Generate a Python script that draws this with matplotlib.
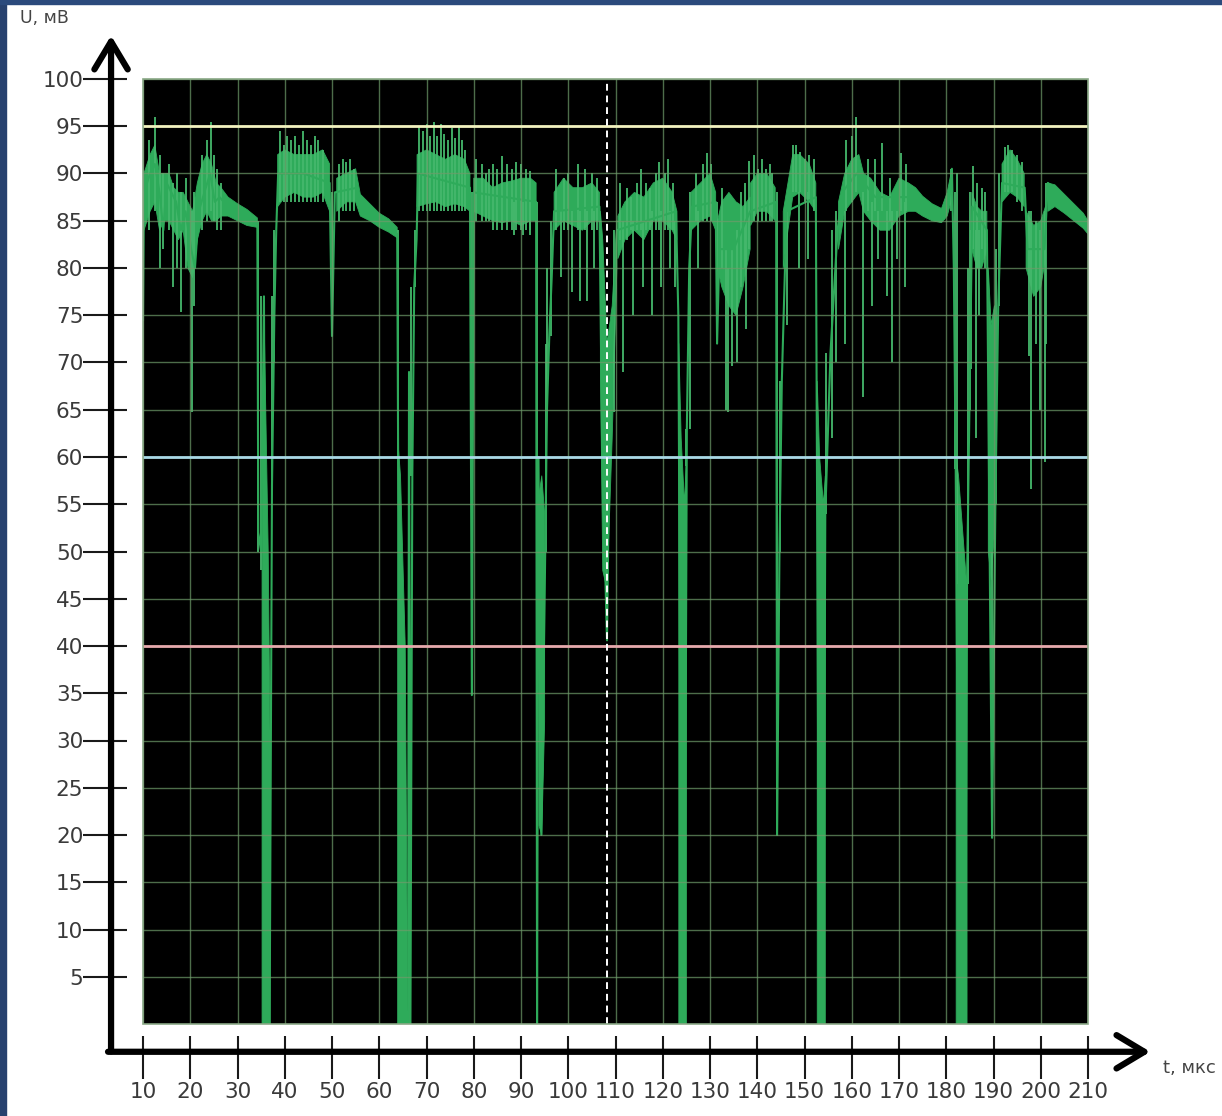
import numpy as np
import matplotlib.pyplot as plt
from matplotlib.patches import Rectangle
from matplotlib.ticker import FixedLocator

# axis ticks and reference levels
x_ticks = list(range(10, 211, 10))
y_ticks = list(range(5, 101, 5))
levels = [95, 60, 40]
level_colors = ['#f2f2bf', '#a9d9e6', '#e6a9ac']
marker_t = 108.2

# main trace (t, U)
trace = [
    (10.0, 74.5), (10.2, 88), (11.5, 90), (12.5, 91), (13.5, 88), (14.3, 84), (15, 89), (16, 88),
    (17, 87), (18, 84), (19, 86), (20.2, 82), (21, 80), (21.8, 86), (23, 88), (24.2, 90), (25.2, 87),
    (26.2, 87.5), (28, 86.5), (30, 85.8), (32, 85.2), (34.2, 84.8),
    (34.4, 52), (35.0, 50), (35.6, 77), (36.2, 0), (36.8, 0), (37.3, 57), (37.8, 75), (38.2, 84), (38.6, 90),
    (44, 90), (49.5, 89), (50.0, 72.8), (50.6, 88), (55.4, 88.5), (56, 86.5), (60, 84.8), (63.8, 83.6),
    (64.0, 60), (65.7, 0), (66.1, 0), (66.3, 69), (66.6, 0), (67.0, 58), (67.4, 78), (67.9, 83), (68.2, 90),
    (79.2, 88.5), (79.6, 34.8), (80.0, 88), (93.2, 87), (93.4, 0), (93.7, 60), (94.3, 20), (95, 45),
    (95.5, 65), (96, 73), (96.5, 79), (97, 86), (106.6, 86.5),
    (107.2, 60), (108.2, 40.6), (108.8, 65), (109.6, 75), (110.3, 84), (122.8, 86), (123.3, 75),
    (124.0, 0), (124.6, 0), (125.1, 63), (125.6, 80), (126.2, 86.5), (131.2, 87), (131.5, 72), (132, 82),
    (135, 82), (138.5, 86), (144.0, 87), (144.2, 20), (144.7, 50), (145.2, 68), (146.2, 86), (152.4, 87.5),
    (153.0, 15), (153.4, 0), (154.0, 0), (154.4, 54), (155.5, 71), (157, 84), (158, 88), (161, 90),
    (165, 87.5), (170, 87.5), (172.5, 87.5), (175, 86.5), (177, 85.8), (179.5, 85.2), (180.6, 87),
    (181.2, 90.5), (181.6, 80), (182.0, 58.7), (182.8, 0), (184.0, 0), (184.4, 46.6), (184.9, 65),
    (185.5, 86.5), (188.6, 84), (189.2, 49), (189.7, 19.7), (190.4, 55), (191.0, 76), (191.8, 89),
    (196.6, 88.5), (197.2, 82), (200.8, 82), (201.5, 89), (202.5, 88.6), (205, 86.5), (207, 85.8), (210, 84.2),
]

# dense noisy stretches: (t, lower edge, upper edge), gaps between stretches
GAP = (np.nan, np.nan, np.nan)
bands = [
    (10.2, 84, 90), (11.5, 86, 92), (12.5, 87, 93), (13.5, 84, 90), (14.5, 85, 90), (15.5, 85, 90),
    (16.5, 84, 88.5), (17.5, 83, 88), (18.5, 84, 88), (19.5, 80, 87), (20.5, 79, 86), (21.5, 83, 89),
    (22.5, 85, 91), (23.5, 86, 92), (24.5, 85, 91), (25.5, 85, 89), (26.5, 85.5, 88.5), (28, 85.5, 87.5),
    (30, 85, 86.8), (32, 84.5, 86.2), (34.2, 84.3, 85.3), GAP,
    (35.2, 0, 55), (35.6, 0, 76), (36.5, 0, 50), (36.9, 0, 30), GAP,
    (38.5, 86.5, 92), (40, 87.5, 92.5), (42, 88, 92), (44, 87.5, 92), (46, 87.5, 92), (48, 88, 92.5),
    (49.5, 86, 91), GAP,
    (51, 86, 89.5), (53, 87, 90), (55, 87, 90.5), (56, 85.5, 87.8), (58, 85, 86.8), (60, 84.3, 85.8),
    (62, 83.8, 85.2), (63.8, 83.2, 84.3), GAP,
    (63.9, 0, 62), (64.5, 0, 58), (65.5, 0, 40), (65.9, 0, 10), GAP,
    (68, 86.5, 92), (70, 86.8, 92.5), (72, 87, 92), (74, 86.5, 91.5), (76, 86.8, 92), (78, 86.5, 91.5),
    (79.2, 86, 90), GAP,
    (80, 86, 89.5), (82, 85.5, 89.5), (84, 85, 88.5), (86, 84.8, 89), (88, 85, 89.2), (90, 84.5, 89.5),
    (92, 85, 89.5), (93.2, 85, 89), GAP,
    (93.8, 21, 56), (94.4, 20, 58), (95.0, 32, 54), GAP,
    (97, 84, 88), (99, 85, 89.5), (101, 84.5, 88.5), (103, 84, 88.5), (105, 85, 89), (106.6, 85, 88), GAP,
    (106.8, 70, 86), (107.3, 48, 83), (108.2, 46, 72), (109.3, 62, 76), (110.3, 80, 85), GAP,
    (110.5, 81, 85.5), (112, 83, 87), (114, 84, 88), (116, 83, 87.5), (118, 85, 89), (120, 85, 89.5),
    (122, 84, 88), (123, 83, 86), GAP,
    (123.4, 0, 72), (123.9, 0, 62), (124.6, 0, 55), (125.0, 0, 60), GAP,
    (126, 84, 88), (128, 85, 89), (130, 85.5, 90), (131.2, 84, 88), GAP,
    (131.6, 80, 85), (132.5, 78, 87), (134, 76, 88), (135.5, 75, 87), (137, 78, 86.5), (138.5, 82, 87.5), GAP,
    (138.6, 84.5, 89), (140, 86, 90), (142, 86, 90), (143.8, 85, 88.5), GAP,
    (145.5, 80, 86), (146.5, 84, 89), (147.5, 87.5, 92), (149, 88, 92), (151, 87, 91), (152.4, 86, 89), GAP,
    (152.7, 0, 68), (153.2, 0, 60), (154.0, 0, 55), (154.4, 0, 58), GAP,
    (157.2, 82, 87), (158.5, 86, 90), (160, 87, 91.5), (161.5, 88, 92), (162.5, 86, 90), (164, 85, 89.5),
    (166, 84, 88), (168, 84, 87.5), (170, 85.5, 89.5), (172, 86, 89), (173.5, 86, 88.5), (175, 85.5, 87.6),
    (177, 85, 86.8), (179, 84.8, 86.3), (180.2, 85.5, 88), (181, 87, 90), GAP,
    (182.1, 0, 60), (182.6, 0, 58), (183.8, 0, 50), (184.4, 0, 46), GAP,
    (185.4, 82, 88), (186.5, 80, 86.5), (187.5, 80, 86), (188.6, 82, 86), GAP,
    (188.9, 50, 80), (189.5, 47, 74), (190.2, 52, 76), GAP,
    (191.8, 87, 91), (193.5, 88, 92.5), (195, 87.5, 91.5), (196.5, 86.5, 90), GAP,
    (196.9, 80, 86), (198.5, 77, 84.5), (200, 78, 85), (201, 81, 86.5), GAP,
    (201.5, 86, 89), (203, 86.5, 88.8), (205, 85.8, 87.8), (207, 85, 86.8), (209, 84.2, 85.8), (210, 83.6, 85),
]

# single spikes: (t, low end, high end)
spikes = [
    (10.1, 74.5, 88), (11.2, 84, 93.5), (12.5, 86, 96), (13.5, 80, 92), (14.3, 82, 90), (15.5, 84, 91),
    (16.3, 78, 89), (17.3, 80, 90), (18.0, 75.3, 88), (19.0, 80, 89.5), (20.4, 64.8, 86), (20.8, 76, 88),
    (22.5, 84, 92), (23.5, 85, 93.5), (24.4, 86, 95.5), (25.0, 85, 92), (25.6, 84, 90.5), (26.6, 84, 89),
    (34.4, 50, 85), (35.0, 48, 77), (37.2, 57, 77), (37.8, 70, 84),
    (39.0, 87, 94.5), (39.8, 87, 93), (40.5, 87, 94), (41.3, 87, 93.5), (42.1, 87, 94), (43.0, 87, 93),
    (43.8, 87, 94.5), (44.7, 87, 93.5), (45.5, 87, 93), (46.3, 87, 94), (47.1, 87, 93.5), (48.0, 87, 92.5),
    (50.0, 72.8, 88), (51.5, 85, 91), (52.3, 86, 91.5), (53.0, 86, 91.2), (53.8, 86, 91.5), (54.6, 86, 90.5),
    (64.0, 60, 84), (66.2, 0, 69), (66.8, 58, 78), (67.5, 78, 84),
    (68.5, 86, 95), (69.2, 86, 94.5), (70.0, 86, 95.2), (70.8, 86, 94), (71.5, 86, 95.4), (72.3, 86, 94),
    (73.0, 86, 95.2), (73.8, 86, 94.2), (74.5, 86, 93.5), (75.3, 86, 94.8), (76.0, 86, 93.8), (76.8, 86, 95),
    (77.5, 86, 93.5), (78.2, 86, 92.5), (79.6, 34.8, 88),
    (80.5, 85, 91.5), (81.7, 85, 91), (82.5, 85, 90), (83.3, 85, 90.5), (84.0, 84, 91), (85.0, 84, 90.5),
    (86.0, 84, 91.8), (87.0, 84, 91), (88.0, 84, 90.5), (89.0, 84, 91.2), (90.0, 84, 91), (91.0, 84, 90.5),
    (92.0, 84, 90.3), (88.5, 83.5, 87), (90.5, 83.5, 87), (91.8, 83.5, 87),
    (93.4, 0, 87), (95.2, 50, 72), (95.6, 64.8, 80), (96.4, 72.8, 85),
    (97.5, 84, 90.5), (98.5, 79, 86), (99.0, 84, 89.5), (100.0, 84, 90), (100.8, 77.5, 86), (102.0, 84, 91),
    (102.5, 76.5, 86), (103.5, 84, 90.5), (104.0, 76.5, 86), (105.0, 84, 90), (105.5, 80, 86), (106.0, 84, 89.5),
    (108.2, 40.6, 50), (109.6, 64.8, 84),
    (111.0, 83, 89), (111.6, 69, 85), (112.4, 83, 88.5), (113.3, 84, 87.5), (113.8, 75, 85), (114.5, 84, 89),
    (115.3, 84, 90.5), (115.8, 78, 85), (116.5, 84, 89), (117.3, 84, 88.5), (117.7, 75, 86), (118.5, 84, 90),
    (119.3, 84, 91.2), (119.7, 78, 86), (120.5, 84, 90), (121.2, 84, 91.5), (121.6, 80, 86), (122.2, 84, 89),
    (122.6, 78, 85),
    (125.0, 59, 63), (125.8, 63, 88),
    (127.0, 85, 90), (127.5, 80, 86), (128.5, 85, 91), (129.3, 85, 92.2), (130.3, 85, 91), (131.5, 72, 87),
    (132.5, 80, 88.5), (133.3, 65, 82), (133.8, 64.8, 80), (134.7, 69.6, 82), (135.8, 70, 84), (136.5, 78, 88),
    (137.5, 80, 89), (137.7, 73.5, 85), (138.2, 82, 91.3),
    (139.3, 85, 92), (140.2, 85, 90.5), (141.0, 85, 91.5), (141.8, 85, 90.5), (142.6, 85, 91), (143.2, 85, 90),
    (144.2, 20, 88),
    (144.8, 50, 68), (146.3, 74, 86), (147.5, 88, 93), (148.3, 88, 93), (148.8, 80, 88), (149.0, 88, 92.3),
    (150.0, 87, 91.5), (150.8, 81, 88), (151.0, 87, 92), (152.0, 86, 91.5),
    (154.6, 54, 71), (155.8, 62, 84), (156.6, 70, 86),
    (158.5, 72, 86), (158.7, 86, 93.5), (160.0, 87, 94), (161.0, 88, 96), (162.4, 66.4, 88), (163.5, 86, 91.5),
    (164.3, 76, 87), (165.0, 86, 91.5), (165.6, 81, 86), (166.5, 86, 93.2), (167.5, 77, 86), (168.0, 85, 89.5),
    (168.5, 70, 86), (169.5, 81, 86), (170.4, 86, 92.2), (171.3, 78, 87), (171.5, 86, 91), (181.0, 86, 90.5),
    (181.8, 58.7, 88), (182.2, 46.6, 90), (184.6, 46.6, 80), (185.0, 65, 88),
    (185.2, 69.3, 84), (185.7, 82, 90.8), (186.2, 62, 84), (186.5, 80, 89), (187.0, 75, 84), (187.5, 82, 88.5),
    (188.3, 80, 88),
    (189.6, 19.7, 50), (190.6, 55, 82), (191.2, 76, 90),
    (192.5, 88, 92.8), (193.0, 88, 93), (194.0, 88, 92.5), (195.0, 87, 92), (196.0, 86, 91.2),
    (197.5, 70.7, 86), (198.0, 56.6, 86), (199.0, 72, 85), (199.8, 65, 84), (200.9, 59.5, 86), (201.2, 72, 89),
]

trace_t, trace_u = zip(*trace)
band_t, band_lo, band_hi = (np.array(v, dtype=float) for v in zip(*bands))
spike_t, spike_lo, spike_hi = zip(*spikes)

W, H = 1222, 1116
fig = plt.figure(figsize=(W / 100, H / 100), dpi=100)
fig.patch.set_facecolor('white')
# blue slide frame on the left and top edge
fig.patches.append(Rectangle((0, 0), 6 / W, 1, transform=fig.transFigure, color='#27416e', zorder=0))
fig.patches.append(Rectangle((0, 1 - 4 / H), 1, 4 / H, transform=fig.transFigure, color='#2b4a7c', zorder=0))

ax = fig.add_axes([143 / W, 92 / H, 945 / W, 945 / H])
ax.set_facecolor('black')
ax.set_xlim(10, 210)
ax.set_ylim(0, 100)

green = '#2eab5a'
ax.fill_between(band_t, band_lo, band_hi, color=green, lw=0.6, zorder=1.5)
ax.vlines(spike_t, spike_lo, spike_hi, color='#45b86c', lw=1.3, zorder=1.8)
ax.plot(trace_t, trace_u, color=green, lw=1.5, zorder=2)

for lvl, c in zip(levels, level_colors):
    ax.axhline(lvl, color=c, lw=2, zorder=3)
ax.axvline(marker_t, color='white', lw=1.4, ls=(0, (3.5, 2.5)), zorder=3)

# grid above the trace, like the scope screen
ax.set_axisbelow(False)
ax.grid(True, which='major', color='#6f9c6b', lw=1, alpha=0.7)
ax.add_patch(Rectangle((0, 0), 1, 1, transform=ax.transAxes, fill=False,
                       ec='#8aa886', lw=1.2, zorder=3, clip_on=False))

# axes drawn as black arrows offset from the screen
for s in ax.spines.values():
    s.set_visible(False)
ax.spines['left'].set_position(('outward', 23))
ax.spines['bottom'].set_position(('outward', 20))

ax.set_xticks(x_ticks)
ax.set_yticks(y_ticks)
ax.xaxis.set_minor_locator(FixedLocator(x_ticks))
ax.yaxis.set_minor_locator(FixedLocator(y_ticks))
ax.xaxis.remove_overlapping_locs = False
ax.yaxis.remove_overlapping_locs = False
ax.tick_params(which='major', direction='out', width=1.5, color='#1a1a1a',
               labelsize=15.5, labelcolor='#3a3a3a')
ax.tick_params(axis='y', which='major', length=20, pad=0)
ax.tick_params(axis='x', which='major', length=19.5, pad=2)
ax.tick_params(which='minor', direction='in', length=11.5, width=1.5, color='#1a1a1a')

arrow = dict(arrowstyle='->,head_length=0.5,head_width=0.3', lw=4.5, color='black',
             shrinkA=0, shrinkB=0, mutation_scale=40)
ytr = ax.get_yaxis_transform('tick1')
xtr = ax.get_xaxis_transform('tick1')
ax.annotate('', xy=(0, 104.6), xytext=(0, -2.9), xycoords=ytr, textcoords=ytr,
            arrowprops=arrow, annotation_clip=False)
ax.annotate('', xy=(223.2, 0), xytext=(2.6, 0), xycoords=xtr, textcoords=xtr,
            arrowprops=arrow, annotation_clip=False)

fig.text(20 / W, 1 - 18 / H, 'U, мВ', fontsize=12.5, color='#444444', ha='left', va='center')
fig.text(1163 / W, 1 - 1068 / H, 't, мкс', fontsize=13, color='#444444', ha='left', va='center')

fig.savefig('out.png', dpi=100, facecolor=fig.get_facecolor())
